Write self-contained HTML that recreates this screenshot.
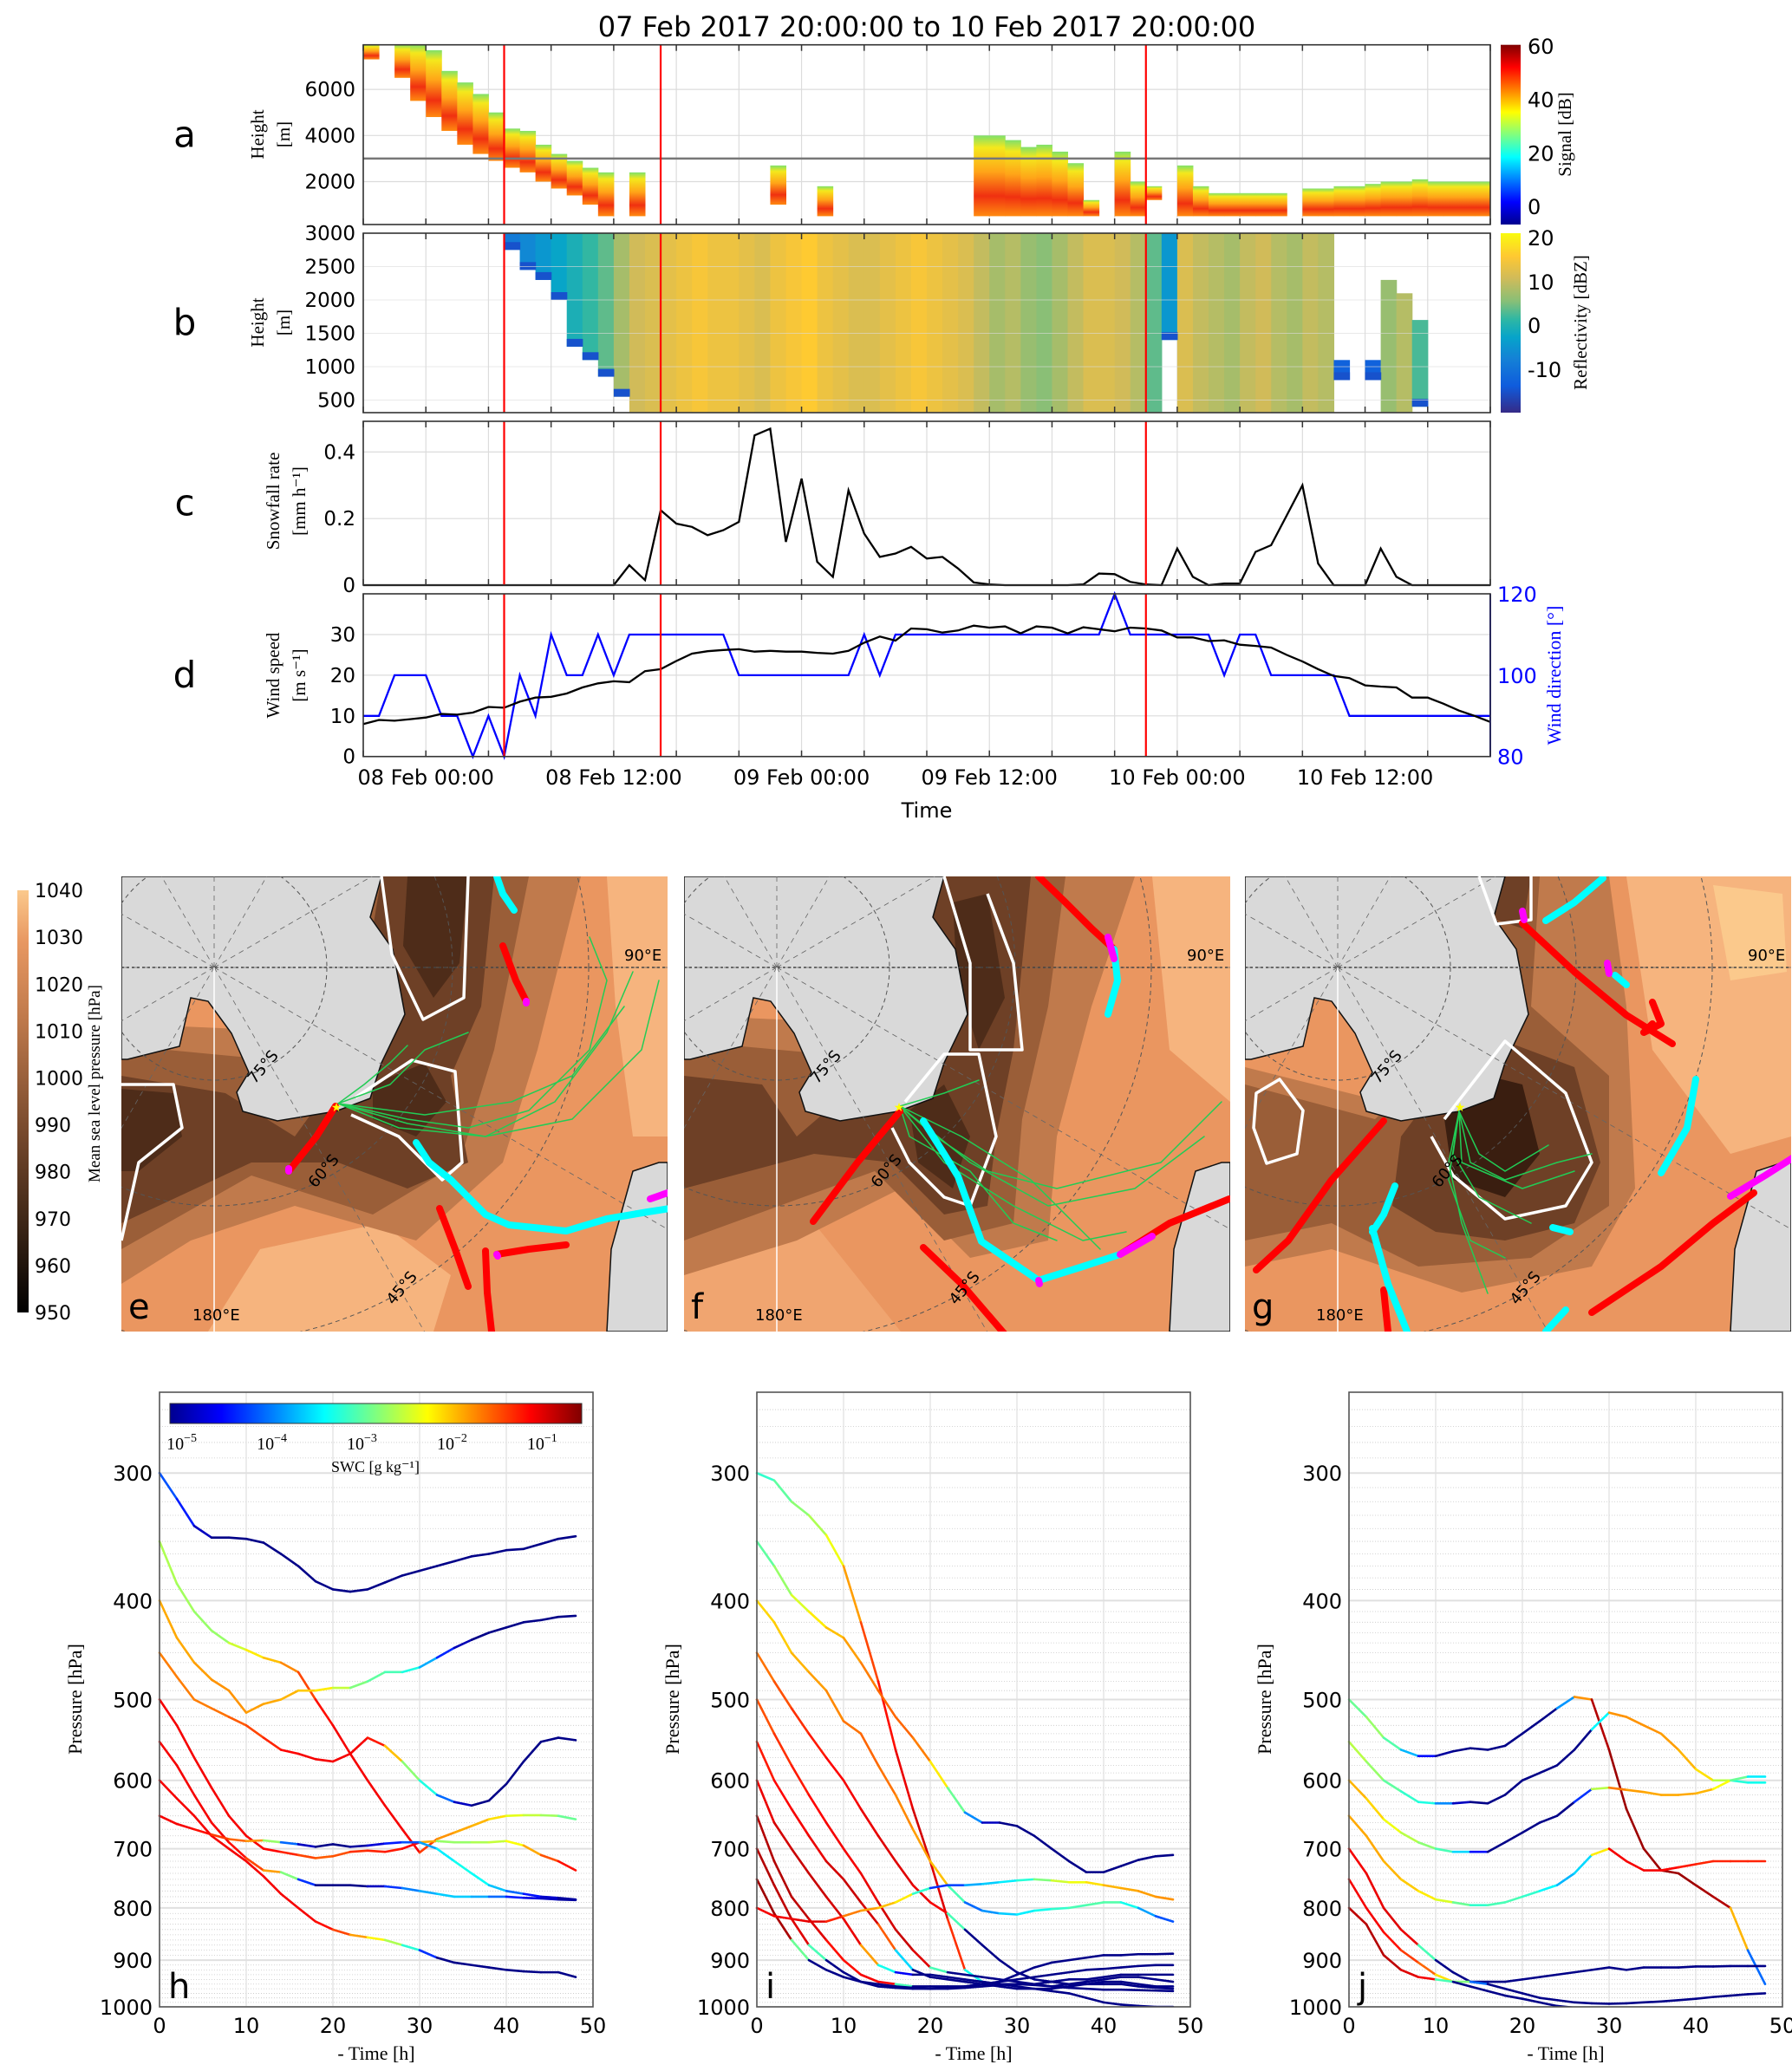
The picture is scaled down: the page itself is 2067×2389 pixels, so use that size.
<!DOCTYPE html>
<html><head><meta charset="utf-8"><style>
html,body{margin:0;padding:0;background:#fff;}
svg{display:block;font-family:"DejaVu Sans","Liberation Sans",sans-serif;}
.serif{font-family:"Liberation Serif","DejaVu Serif",serif;}
</style></head>
<body>
<svg id="fig" xmlns="http://www.w3.org/2000/svg" width="2067" height="2389" viewBox="0 0 2067 2389">
<defs>
<linearGradient id="jetH" x1="0" x2="1" y1="0" y2="0">
<stop offset="0" stop-color="#00008f"/><stop offset="0.125" stop-color="#0000ff"/><stop offset="0.375" stop-color="#00ffff"/><stop offset="0.625" stop-color="#ffff00"/><stop offset="0.875" stop-color="#ff0000"/><stop offset="1" stop-color="#800000"/>
</linearGradient>
<linearGradient id="jetV" x1="0" x2="0" y1="1" y2="0">
<stop offset="0" stop-color="#00008f"/><stop offset="0.125" stop-color="#0000ff"/><stop offset="0.375" stop-color="#00ffff"/><stop offset="0.625" stop-color="#ffff00"/><stop offset="0.875" stop-color="#ff0000"/><stop offset="1" stop-color="#800000"/>
</linearGradient>
<linearGradient id="parV" x1="0" x2="0" y1="1" y2="0">
<stop offset="0" stop-color="#352a87"/><stop offset="0.15" stop-color="#0f5cdd"/><stop offset="0.3" stop-color="#1481d6"/><stop offset="0.42" stop-color="#06a4ca"/><stop offset="0.52" stop-color="#2eb7a4"/><stop offset="0.62" stop-color="#87bf77"/><stop offset="0.75" stop-color="#d1bb59"/><stop offset="0.87" stop-color="#fec832"/><stop offset="1" stop-color="#f9fb0e"/>
</linearGradient>
<linearGradient id="sigCol" x1="0" x2="0" y1="0" y2="1">
<stop offset="0" stop-color="#7fe06a"/><stop offset="0.15" stop-color="#f4e81c"/><stop offset="0.45" stop-color="#ffa418"/><stop offset="0.75" stop-color="#f03010"/><stop offset="1" stop-color="#ff8a10"/>
</linearGradient>
<linearGradient id="copperV" x1="0" x2="0" y1="1" y2="0">
<stop offset="0" stop-color="#000000"/><stop offset="0.2" stop-color="#3a2415"/><stop offset="0.45" stop-color="#7d4d2f"/><stop offset="0.7" stop-color="#c07a4c"/><stop offset="0.88" stop-color="#e89862"/><stop offset="1" stop-color="#fbc98c"/>
</linearGradient>
<clipPath id="clipE"><rect x="0" y="0" width="630" height="525"/></clipPath>
</defs>
</svg>
<script>
// ---------------- DATA ----------------
const hours = [0,1,2,3,4,5,6,7,8,9,10,11,12,13,14,15,16,17,18,19,20,21,22,23,24,25,26,27,28,29,30,31,32,33,34,35,36,37,38,39,40,41,42,43,44,45,46,47,48,49,50,51,52,53,54,55,56,57,58,59,60,61,62,63,64,65,66,67,68,69,70,71,72];
const xTickLabels = ["08 Feb 00:00","08 Feb 12:00","09 Feb 00:00","09 Feb 12:00","10 Feb 00:00","10 Feb 12:00"];
const xTickHours = [4,16,28,40,52,64];
const redLineHours = [9,19,50];
const snowfall = [0,0,0,0,0,0,0,0,0,0,0,0,0,0,0,0,0,0.06,0.015,0.225,0.185,0.175,0.15,0.165,0.19,0.45,0.47,0.13,0.32,0.07,0.025,0.285,0.155,0.085,0.095,0.115,0.08,0.085,0.05,0.008,0.002,0,0,0,0,0,0.002,0.035,0.033,0.01,0.002,0,0.11,0.025,0,0.005,0.005,0.1,0.12,0.21,0.3,0.065,0,0,0,0.11,0.025,0,0,0,0,0,0];
const windSpeed = [8,9,8.8,9.2,9.6,10.5,10.3,10.8,12.2,12,13.5,14.5,14.7,15.5,17,18,18.5,18.3,21,21.5,23.5,25.3,25.9,26.2,26.4,25.8,26,25.8,25.8,25.5,25.3,26,28,29.5,28.5,31.5,31.3,30.5,31,32.2,31.7,32,30.3,32,31.7,30.3,31.8,31.3,30.8,31.7,31.5,31,29.3,29.3,28.4,28.6,27.5,27.2,26.8,25,23.4,21.5,19.8,19.3,17.5,17.2,17,14.5,14.5,13,11.3,10,8.5];
const windDir = [90,90,100,100,100,90,90,80,90,80,100,90,110,100,100,110,100,110,110,110,110,110,110,110,100,100,100,100,100,100,100,100,110,100,110,110,110,110,110,110,110,110,110,110,110,110,110,110,120,110,110,110,110,110,110,100,110,110,100,100,100,100,100,90,90,90,90,90,90,90,90,90,90];
const sigTop = [7950,null,7950,7950,7700,6800,6300,5800,5000,4300,4200,3600,3200,2900,2600,2400,null,2400,null,null,null,null,null,null,null,null,2700,null,null,1800,null,null,null,null,null,null,null,null,null,4000,4000,3800,3500,3600,3300,2800,1200,null,3300,2000,1800,null,2700,1800,1500,1500,1500,1500,1500,null,1700,1700,1800,1800,1900,2000,2000,2100,2000,2000,2000,2000,null];
const sigBot = [7300,null,6500,5500,4800,4200,3600,3200,2900,2600,2400,2000,1700,1400,1000,500,null,500,null,null,null,null,null,null,null,null,1000,null,null,500,null,null,null,null,null,null,null,null,null,500,500,500,500,500,500,500,500,null,500,500,1200,null,500,500,500,500,500,500,500,null,500,500,500,500,500,500,500,500,500,500,500,500,null];
const radHour = [9,10,11,12,13,14,15,16,17,18,19,20,21,22,23,24,25,26,27,28,29,30,31,32,33,34,35,36,37,38,39,40,41,42,43,44,45,46,47,48,49,50,51,52,53,54,55,56,57,58,59,60,61,62,64,65,66,67];
const radTop = [3000,3000,3000,3000,3000,3000,3000,3000,3000,3000,3000,3000,3000,3000,3000,3000,3000,3000,3000,3000,3000,3000,3000,3000,3000,3000,3000,3000,3000,3000,3000,3000,3000,3000,3000,3000,3000,3000,3000,3000,3000,3000,3000,3000,3000,3000,3000,3000,3000,3000,3000,3000,3000,1100,1100,2300,2100,1700];
const radBot = [2750,2450,2300,2000,1300,1100,850,550,320,320,320,320,320,320,320,320,320,320,320,320,320,320,320,320,320,320,320,320,320,320,320,320,320,320,320,320,320,320,320,320,320,320,1400,320,320,320,320,320,320,320,320,320,320,800,800,320,320,400];
const radDbz = [-8,-6,-4,-2,0,2,4,8,11,12,13,14,15,14,14,13,12,14,15,16,14,13,12,12,13,14,15,14,13,12,10,8,9,7,6,8,10,12,12,11,9,4,-4,12,10,9,8,10,11,9,8,10,9,-12,-12,7,9,3];
const aTicks = [2000,4000,6000];
const bTicks = [500,1000,1500,2000,2500,3000];
const cTicks = [0,0.2,0.4];
const dTicks = [0,10,20,30];
const dirTicks = [80,100,120];
const trajTimes = [0,2,4,6,8,10,12,14,16,18,20,22,24,26,28,30,32,34,36,38,40,42,44,46,48];
const hP = [
[300,318,338,347,347,348,351,360,370,383,390,392,390,384,378,374,370,366,362,360,357,356,352,348,346],
[350,385,410,428,440,447,455,460,470,500,530,565,600,635,670,706,685,675,665,655,650,649,649,650,655],
[400,435,460,478,490,515,505,500,490,490,487,487,480,470,470,465,455,445,437,430,425,420,418,415,414],
[450,475,500,510,520,530,545,560,565,572,575,565,545,555,575,600,620,630,635,628,605,575,550,545,548],
[500,530,570,610,650,680,700,705,710,715,712,705,703,705,700,690,688,690,690,690,688,695,710,720,735],
[550,580,620,660,690,715,735,738,750,760,760,760,762,762,765,770,775,780,780,780,780,782,783,785,786],
[600,625,650,680,700,720,745,775,800,825,840,850,855,860,870,880,895,905,910,915,920,923,925,925,935],
[650,662,670,678,685,688,687,690,693,697,693,697,695,692,690,690,700,720,740,760,770,775,780,782,785]];
const hE = [
[-4,-4.2,-4.5,-5],
[-2.5,-2.6,-2.6,-2.7,-2.6,-2.2,-2,-1.8,-1.5,-1.2,-1,-1,-1,-1,-1,-1,-1.6,-1.8,-1.8,-1.9,-2.2,-2.4,-2.5,-2.7,-3],
[-1.8,-1.8,-1.8,-1.7,-1.7,-1.7,-1.8,-1.8,-1.9,-2,-2.2,-2.7,-2.8,-3,-3,-3.4,-4,-4.6,-5],
[-1.6,-1.6,-1.6,-1.6,-1.5,-1.4,-1.3,-1.1,-1,-1,-1,-1,-1,-1.3,-2.5,-2.9,-3.5,-4.5,-5],
[-1,-1,-1,-1,-1,-1,-1,-1.1,-1.3,-1.4,-1.5,-1.3,-1.2,-1.2,-1.1,-1,-2.6,-2.7,-2.6,-2.5,-2.4,-2,-1.6,-1.2,-1],
[-1,-1,-1,-1,-1,-1.2,-1.5,-2,-3.5,-5,-5,-5,-5,-4.5,-4,-3.8,-3.6,-3.5,-3.6,-3.8,-4.2,-4.5,-4.7,-4.8,-5],
[-1,-1,-1,-1,-1,-1,-1,-1,-1,-1,-1.2,-1.5,-2,-2.3,-2.8,-3.5,-5],
[-1,-1,-1,-1.2,-1.4,-1.6,-1.8,-3.5,-4.5,-5,-5,-5,-4.8,-4.5,-4.2,-4,-3.5,-3.3,-3.2,-3.4,-3.8,-4.2,-4.6,-4.8,-5]];
const iP = [
[300,305,320,330,345,370,420,480,560,640,720,820,920,945,950,955,960,965,970,980,990,995,998,1000,1000],
[350,370,395,410,425,435,460,490,520,545,575,610,645,660,660,665,680,700,720,738,738,728,718,712,710],
[400,420,450,470,490,525,540,580,620,670,720,760,790,805,810,812,805,802,800,795,790,790,800,815,825],
[450,480,510,540,570,600,640,680,720,760,790,810,840,870,900,925,940,945,950,950,950,950,955,958,960],
[500,540,580,620,660,700,740,790,840,880,915,925,930,935,940,945,950,955,950,945,940,935,935,940,945],
[550,600,640,680,720,750,790,830,880,920,935,940,945,950,955,960,960,960,955,950,945,945,950,955,955],
[600,660,700,740,780,820,870,910,925,930,930,935,940,945,950,950,950,945,940,940,935,930,930,930,930],
[650,720,780,820,860,900,930,945,950,955,955,955,955,950,945,940,935,930,925,920,918,915,912,910,910],
[700,760,820,870,900,925,945,955,958,960,960,958,955,950,945,930,915,905,900,895,890,890,888,888,887],
[750,810,860,900,920,935,945,950,955,958,960,960,958,955,952,950,952,955,958,960,962,962,963,964,965],
[800,815,820,825,825,815,805,800,790,775,765,760,760,758,755,752,750,752,755,755,760,765,770,780,785]];
const iE = [
[-3.2,-3,-2.8,-2.6,-2.5,-2,-1.5,-1.2,-1,-0.9,-0.8,-1,-1.5,-5],
[-3,-2.8,-2.5,-2.2,-2,-1.8,-1.7,-1.5,-1.5,-1.5,-1.7,-2.5,-3.2,-4.5,-5],
[-2,-2,-1.9,-1.8,-1.7,-1.6,-1.5,-1.5,-1.6,-1.7,-1.8,-2,-4,-4,-3.6,-3.5,-3.3,-3.2,-3,-3,-2.9,-3,-3.5,-4,-4.2],
[-1.6,-1.5,-1.3,-1.2,-1.1,-1,-1,-0.9,-0.9,-0.9,-1,-1,-5],
[-1.5,-1.3,-1.2,-1.1,-1,-1,-1,-0.9,-0.8,-0.8,-1,-5],
[-1.2,-1.1,-1,-1,-0.9,-0.8,-0.8,-0.9,-2,-5],
[-1,-0.9,-0.8,-0.8,-0.8,-0.9,-1,-2.5,-4,-5],
[-0.7,-0.7,-0.7,-0.8,-1,-1.2,-1,-1,-1,-5],
[-0.7,-0.7,-0.8,-1,-5],
[-0.6,-0.6,-0.7,-5],
[-1,-1,-1,-0.9,-0.9,-1.5,-1.7,-1.8,-2,-2.2,-4,-4.5,-3.8,-3.6,-3.5,-3.3,-3,-2.5,-2.3,-2.2,-1.9,-1.8,-1.8,-1.7,-1.7]];
const jP = [
[500,520,545,560,568,568,562,558,560,555,540,525,510,497,500,560,640,700,735,740,760,780,800,880,950],
[550,575,600,615,630,632,632,630,632,620,600,590,580,560,535,515,520,530,540,560,585,600,600,603,603],
[600,625,655,675,690,700,705,705,705,690,675,660,650,630,612,610,613,616,620,620,618,612,600,595,595],
[650,680,720,750,770,785,790,795,795,790,780,770,760,740,710,700,720,735,735,730,725,720,720,720,720],
[700,740,800,840,870,900,925,945,945,945,940,935,930,925,920,915,920,915,915,915,913,913,912,912,912],
[750,800,845,880,905,930,945,945,950,960,970,980,985,990,992,993,992,990,988,985,982,978,975,972,970],
[800,830,890,920,935,940,945,955,965,975,982,990,998,1002,1005,1008,1010,1010,1010,1010,1010,1010,1010,1010,1010]];
const jE = [
[-3,-2.7,-2.6,-3.3,-4,-4.8,-5,-5,-5,-5,-5,-5,-5,-2.6,-0.8,-0.6,-0.6,-0.6,-0.6,-0.6,-0.6,-0.7,-0.7,-3,-5],
[-2.5,-2.5,-2.8,-3,-3.2,-3.2,-4.5,-5,-5,-5,-5,-5,-5,-5,-5,-1.7,-1.7,-1.7,-1.7,-1.8,-1.9,-2.2,-2.8,-3.5,-3],
[-1.8,-1.9,-2.1,-2.4,-2.6,-2.8,-3.2,-3.8,-5,-5,-5,-5,-5,-5,-3.5,-1.5,-1.7,-1.8,-1.8,-1.8,-1.8,-1.9,-2.5,-3.2,-3.6],
[-1.8,-1.8,-1.8,-1.9,-2,-2.2,-2.5,-3.2,-3,-3,-3,-3.2,-3.5,-3.8,-3.2,-1,-1,-1,-1,-1.1,-1.2,-1.2,-1.2,-1.2,-1.2],
[-1,-1,-0.9,-0.9,-1,-5],
[-1,-1,-1,-1.2,-1.4,-1.6,-2.5,-3,-5],
[-0.8,-0.7,-0.7,-0.8,-1,-1,-5]];
const pTicks = [300,400,500,600,700,800,900,1000];
const tTicks = [0,10,20,30,40,50];
const swcTickExp = [-5,-4,-3,-2,-1];
const mslpTicks = [950,960,970,980,990,1000,1010,1020,1030,1040];

// ---------------- HELPERS ----------------
const NS = "http://www.w3.org/2000/svg";
const svg = document.getElementById('fig');
function mk(tag, attrs, parent){ const e=document.createElementNS(NS,tag); for(const k in attrs) e.setAttribute(k,attrs[k]); (parent||svg).appendChild(e); return e; }
function txt(s, attrs, parent){ const e=mk('text',attrs,parent); e.textContent=s; return e; }
function clamp(v){return Math.max(0,Math.min(1,v));}
function jet(f){ f=clamp(f); const r=clamp(1.5-Math.abs(4*f-3)), g=clamp(1.5-Math.abs(4*f-2)), b=clamp(1.5-Math.abs(4*f-1)); return `rgb(${Math.round(r*255)},${Math.round(g*255)},${Math.round(b*255)})`; }
const parStops=[[0,[53,42,135]],[0.15,[15,92,221]],[0.3,[20,129,214]],[0.42,[6,164,202]],[0.52,[46,183,164]],[0.62,[135,191,119]],[0.75,[209,187,89]],[0.87,[254,200,50]],[1,[249,251,14]]];
function parula(f){ f=clamp(f); for(let i=1;i<parStops.length;i++){ if(f<=parStops[i][0]){ const a=parStops[i-1],b=parStops[i]; const t=(f-a[0])/(b[0]-a[0]); const c=a[1].map((v,k)=>Math.round(v+(b[1][k]-v)*t)); return `rgb(${c[0]},${c[1]},${c[2]})`; } } return 'rgb(249,251,14)'; }

// ---------------- TOP PANELS ----------------
const X0=419, X1=1719, CBX=1731;
const xH = h => X0 + h*(X1-X0)/72;
const yA = v => 209.5 - (v-2000)*0.0266;
const yB = v => 269 + (3000-v)*0.077;
const yC = v => 675 - v*384;
const yD = v => 872.7 - v*4.69;
const yDir = d => 872.7 - (d-80)*4.69;
const panels = [{n:'a',t:51.7,b:259},{n:'b',t:269,b:476},{n:'c',t:486,b:675},{n:'d',t:685,b:872.7}];

txt('07 Feb 2017 20:00:00 to 10 Feb 2017 20:00:00',{x:1069,y:42,'font-size':32,'text-anchor':'middle',});

panels.forEach(p=>{
  const g=mk('g',{});
  
  
  mk('rect',{x:X0,y:p.t,width:X1-X0,height:p.b-p.t,fill:'#fff'},g);
  for(let h=0;h<=72;h+=4){ const l=mk('line',{x1:xH(h),x2:xH(h),y1:p.t,y2:p.b,stroke:'#dcdcdc','stroke-width':1.2},g);   }
  txt(p.n,{x:213,y:(p.t+p.b)/2+14,'font-size':42,'text-anchor':'middle'},g);
  p.g=g;
});

// panel a
(function(){
  const g=panels[0].g;
  aTicks.forEach(v=>{ mk('line',{x1:X0,x2:X1,y1:yA(v),y2:yA(v),stroke:'#dcdcdc','stroke-width':1.2},g); const t=txt(String(v),{x:X0-9,y:yA(v)+8,'font-size':23,'text-anchor':'end'},g);   });
  hours.forEach((h,i)=>{ if(sigTop[i]===null) return; const r=mk('rect',{x:xH(h),y:yA(sigTop[i]),width:xH(1)-xH(0)+0.5,height:yA(sigBot[i])-yA(sigTop[i]),fill:'url(#sigCol)'},g);
    
     });
  mk('line',{x1:X0,x2:X1,y1:yA(3000),y2:yA(3000),stroke:'#777','stroke-width':2.5},g);
  mk('rect',{x:CBX,y:51.7,width:23,height:207.3,fill:'url(#jetV)'},g);
  [0,20,40,60].forEach(v=>{ txt(String(v),{x:1762,y:238-v*3.083+9,'font-size':24},g); });
  txt('Signal [dB]',{x:1812,y:155,'font-size':21,'text-anchor':'middle',transform:'rotate(-90 1812 155)',class:'serif'},g);
  txt('Height',{x:304,y:155,'font-size':21,'text-anchor':'middle',transform:'rotate(-90 304 155)',class:'serif'},g);
  txt('[m]',{x:334,y:155,'font-size':21,'text-anchor':'middle',transform:'rotate(-90 334 155)',class:'serif'},g);
})();

// panel b
(function(){
  const g=panels[1].g;
  radHour.forEach((h,i)=>{ const r=mk('rect',{x:xH(h),y:yB(radTop[i]),width:xH(1)-xH(0)+0.6,height:yB(radBot[i])-yB(radTop[i]),fill:parula((radDbz[i]+19)/40)},g);
    
     });
  radHour.forEach((h,i)=>{ if(radBot[i]>330) { const r=mk('rect',{x:xH(h),y:yB(radBot[i])-9,width:xH(1)-xH(0)+0.6,height:9,fill:parula(0.12)},g);
    
     } });
  bTicks.forEach(v=>{ mk('line',{x1:X0,x2:X1,y1:yB(v),y2:yB(v),stroke:'#dcdcdc','stroke-width':1,'opacity':0.6},g); txt(String(v),{x:X0-9,y:yB(v)+8,'font-size':23,'text-anchor':'end'},g); });
  mk('rect',{x:CBX,y:269,width:23,height:207,fill:'url(#parV)'},g);
  [[20,274],[10,325],[0,375],[-10,426]].forEach(a=>{ txt(String(a[0]),{x:1762,y:a[1]+9,'font-size':24},g); });
  txt('Reflectivity [dBZ]',{x:1830,y:372,'font-size':21,'text-anchor':'middle',transform:'rotate(-90 1830 372)',class:'serif'},g);
  txt('Height',{x:304,y:372,'font-size':21,'text-anchor':'middle',transform:'rotate(-90 304 372)',class:'serif'},g);
  txt('[m]',{x:334,y:372,'font-size':21,'text-anchor':'middle',transform:'rotate(-90 334 372)',class:'serif'},g);
})();

// panel c
(function(){
  const g=panels[2].g;
  cTicks.forEach(v=>{ mk('line',{x1:X0,x2:X1,y1:yC(v),y2:yC(v),stroke:'#dcdcdc','stroke-width':1.2},g); txt(String(v),{x:X0-9,y:yC(v)+8,'font-size':23,'text-anchor':'end'},g); });
  const pts=hours.map((h,i)=>xH(h).toFixed(1)+','+yC(snowfall[i]).toFixed(1)).join(' ');
  const pl=mk('polyline',{points:pts,fill:'none',stroke:'#000','stroke-width':2.3},g);
  
  
  txt('Snowfall rate',{x:322,y:578,'font-size':21,'text-anchor':'middle',transform:'rotate(-90 322 578)',class:'serif'},g);
  txt('[mm h\u207B\u00B9]',{x:352,y:578,'font-size':21,'text-anchor':'middle',transform:'rotate(-90 352 578)',class:'serif'},g);
})();

// panel d
(function(){
  const g=panels[3].g;
  dTicks.forEach(v=>{ mk('line',{x1:X0,x2:X1,y1:yD(v),y2:yD(v),stroke:'#dcdcdc','stroke-width':1.2},g); txt(String(v),{x:X0-9,y:yD(v)+8,'font-size':23,'text-anchor':'end'},g); });
  dirTicks.forEach(v=>{ txt(String(v),{x:X1+8,y:yDir(v)+9,'font-size':24,fill:'#0000ff'},g); });
  const pd=hours.map((h,i)=>xH(h).toFixed(1)+','+yDir(windDir[i]).toFixed(1)).join(' ');
  const l1=mk('polyline',{points:pd,fill:'none',stroke:'#0000ff','stroke-width':2.3},g);
  
  
  const ps=hours.map((h,i)=>xH(h).toFixed(1)+','+yD(windSpeed[i]).toFixed(1)).join(' ');
  const l2=mk('polyline',{points:ps,fill:'none',stroke:'#000','stroke-width':2.3},g);
  
  
  mk('line',{x1:X1,x2:X1,y1:685,y2:872.7,stroke:'#0000ff','stroke-width':2},g);
  txt('Wind speed',{x:322,y:779,'font-size':21,'text-anchor':'middle',transform:'rotate(-90 322 779)',class:'serif'},g);
  txt('[m s\u207B\u00B9]',{x:352,y:779,'font-size':21,'text-anchor':'middle',transform:'rotate(-90 352 779)',class:'serif'},g);
  txt('Wind direction [\u00B0]',{x:1800,y:779,'font-size':22,'text-anchor':'middle',fill:'#0000ff',transform:'rotate(-90 1800 779)',class:'serif'},g);
  xTickHours.forEach((h,i)=>{ const t=txt(xTickLabels[i],{x:xH(h),y:905,'font-size':24,'text-anchor':'middle'},g);   });
  txt('Time',{x:1069,y:943,'font-size':24,'text-anchor':'middle'},g);
})();

panels.forEach(p=>{
  redLineHours.forEach(h=>{ const l=mk('line',{x1:xH(h),x2:xH(h),y1:p.t,y2:p.b,stroke:'#ff0000','stroke-width':2.2},p.g);   });
  for(let h=0;h<=72;h+=4){ mk('line',{x1:xH(h),x2:xH(h),y1:p.b,y2:p.b-7,stroke:'#333','stroke-width':1.5},p.g); mk('line',{x1:xH(h),x2:xH(h),y1:p.t,y2:p.t+7,stroke:'#333','stroke-width':1.5},p.g); }
  mk('rect',{x:X0,y:p.t,width:X1-X0,height:p.b-p.t,fill:'none',stroke:'#333','stroke-width':1.6},p.g);
});

// ---------------- MAPS ----------------
(function(){
  const g=mk('g',{});
  
  
  mk('rect',{x:20,y:1027,width:13,height:487,fill:'url(#copperV)'},g);
  mslpTicks.forEach(v=>{ txt(String(v),{x:40,y:1514-(v-950)*5.41+8,'font-size':22},g); });
  txt('Mean sea level pressure [hPa]',{x:115,y:1250,'font-size':19,'text-anchor':'middle',transform:'rotate(-90 115 1250)',class:'serif'},g);
})();
const land = "M300,0 L287,47 L313,84 L327,159 L300,215 L287,256 L247,271 L180,282 L140,271 L133,249 L147,226 L127,181 L100,144 L80,140 L67,196 L7,211 L0,211 L0,0 Z";
const maps = [
 {id:'e', x:140, layers:[
   ['#f6b47e','M560,0 L630,0 L630,300 L590,300 L570,150 Z'],
   ['#f6b47e','M100,525 L160,430 L300,400 L380,460 L360,525 Z'],
   ['#c07a4c','M0,170 L230,180 L270,0 L530,0 L480,200 L440,330 L340,420 L200,380 L80,420 L0,470 Z'],
   ['#9a5e38','M0,195 L210,215 L285,0 L470,0 L430,200 L390,330 L290,390 L150,345 L0,430 Z'],
   ['#6e4026','M0,230 L120,250 L200,300 L265,210 L300,0 L430,0 L415,150 L380,230 L400,330 L330,360 L250,330 L150,330 L0,400 Z'],
   ['#4e2c19','M330,0 L400,0 L390,100 L360,140 L325,80 Z'],
   ['#4e2c19','M290,240 L350,215 L375,260 L340,300 L290,280 Z'],
   ['#4e2c19','M0,245 L60,250 L70,300 L20,340 L0,340 Z']],
  white:['M300,0 L312,90 L348,165 L395,140 L400,0','M270,255 L335,212 L385,225 L393,330 L370,350 L320,300 L265,275','M0,240 L60,240 L70,290 L20,330 L0,420'],
  red:[[[247,265],[225,300],[193,340]],[[440,80],[455,120],[467,144]],[[367,383],[385,430],[400,473]],[[420,432],[422,480],[427,525]],[[433,436],[470,430],[513,425]]],
  cyan:[[[433,0],[440,20],[453,39]],[[340,307],[355,330],[380,350],[420,390],[447,402],[513,409],[560,395],[607,387],[633,383]]],
  mag:[[[467,144],[467,146]],[[193,337],[193,340]],[[433,436],[434,438]],[[610,372],[630,365]]],
  green:[[[250,262],[330,280],[400,290],[470,270],[540,200],[560,120],[540,70]],[[250,262],[330,285],[420,300],[500,260],[560,180],[590,110]],[[250,262],[320,290],[420,300],[520,280],[600,200],[620,120]],[[250,262],[280,240],[310,215],[330,195]],[[250,262],[310,240],[350,200],[400,180]],[[250,262],[350,275],[450,260],[520,230],[580,150]]]},
 {id:'f', x:789, layers:[
   ['#f6b47e','M540,0 L630,0 L630,260 L560,200 Z'],
   ['#f0a570','M0,440 L150,400 L250,525 L0,525 Z'],
   ['#c07a4c','M0,160 L220,170 L265,0 L520,0 L470,150 L430,300 L420,420 L330,440 L250,360 L130,420 L0,460 Z'],
   ['#9a5e38','M0,190 L220,210 L275,0 L440,0 L420,150 L390,280 L380,400 L300,420 L220,340 L0,420 Z'],
   ['#6e4026','M0,230 L90,240 L130,300 L200,240 L270,0 L400,0 L380,200 L360,300 L350,380 L300,390 L240,330 L150,320 L0,360 Z'],
   ['#4e2c19','M310,30 L350,20 L370,140 L340,200 L315,120 Z'],
   ['#4e2c19','M260,270 L300,240 L330,300 L310,360 L270,330 Z']],
  white:['M300,0 L330,100 L330,200 L390,200 L380,100 L350,20','M255,260 L300,205 L340,205 L360,300 L330,380 L300,370 L260,330 L240,290'],
  red:[[[409,0],[440,30],[470,60],[496,84]],[[249,271],[200,330],[149,398]],[[276,428],[320,470],[369,527]],[[503,436],[560,400],[629,372]]],
  cyan:[[[496,84],[500,120],[489,159]],[[276,282],[300,320],[316,346],[343,421],[409,466],[460,450],[503,436]]],
  mag:[[[489,70],[496,95]],[[409,466],[410,470]],[[503,436],[540,415]]],
  green:[[[249,265],[330,330],[420,380],[520,360],[600,300]],[[249,265],[300,330],[380,380],[460,420],[510,410]],[[249,265],[320,300],[400,350],[450,400],[480,430]],[[249,265],[290,300],[350,340],[430,360],[550,330],[620,260]],[[249,265],[260,300],[330,340],[380,400],[430,420]],[[249,265],[300,250],[340,235]]]},
 {id:'g', x:1436, layers:[
   ['#f6b47e','M440,0 L630,0 L630,300 L560,320 L470,200 Z'],
   ['#fbc98c','M540,10 L620,20 L625,110 L560,120 Z'],
   ['#c07a4c','M0,220 L160,260 L230,200 L250,0 L420,0 L440,150 L450,360 L400,450 L250,480 L100,430 L0,450 Z'],
   ['#9a5e38','M0,240 L150,280 L225,210 L265,0 L340,0 L330,150 L420,230 L420,380 L330,440 L200,450 L100,400 L0,420 Z'],
   ['#6e4026','M180,300 L240,220 L300,190 L380,220 L410,330 L380,400 L300,420 L220,410 L170,380 Z'],
   ['#6e4026','M270,0 L330,0 L320,60 L290,50 Z'],
   ['#3a1e10','M230,280 L280,230 L320,240 L340,320 L300,370 L240,350 Z']],
  white:['M230,280 L300,190 L370,250 L400,330 L370,380 L300,395 L240,345 L215,300','M13,250 L40,234 L67,270 L60,320 L25,331 L10,290 Z','M270,0 L290,55 L330,50 L330,0'],
  red:[[[320,54],[380,110],[440,160],[493,193]],[[160,282],[100,350],[50,420],[13,454]],[[160,477],[165,525]],[[400,503],[480,450],[540,400],[587,365]],[[470,145],[480,170],[460,180],[470,170]]],
  cyan:[[[347,51],[380,30],[413,2]],[[427,114],[440,125]],[[173,357],[160,390],[147,410]],[[147,406],[165,470],[187,525]],[[520,234],[510,290],[480,342]],[[347,525],[370,500]],[[355,405],[375,410]]],
  mag:[[[320,40],[322,50]],[[418,100],[420,112]],[[560,369],[600,345],[633,324]]],
  green:[[[247,271],[235,330],[250,400],[280,481]],[[247,271],[240,320],[270,370],[330,400]],[[247,271],[260,330],[300,350],[360,330],[400,320]],[[247,271],[250,330],[320,360],[380,340]],[[247,271],[235,350],[260,420],[300,440]],[[247,271],[270,320],[300,340],[350,310]]]}
];
maps.forEach(m=>{
  const g=mk('g',{transform:`translate(${m.x},1011)`,'clip-path':'url(#clipE)'});
  
  
  mk('rect',{x:0,y:0,width:630,height:525,fill:'#ea9660'},g);
  m.layers.forEach(L=>{ const p=mk('path',{d:L[1],fill:L[0],'stroke-linejoin':'round'},g);   });
  const ld=mk('path',{d:land,fill:'#d9d9d9',stroke:'#111','stroke-width':1.5},g);
  
  
  mk('path',{d:'M590,340 L620,330 L630,330 L630,525 L560,525 L565,430 Z',fill:'#d9d9d9',stroke:'#111','stroke-width':1.5},g);
  [130,275,432].forEach(r=>{ mk('circle',{cx:107,cy:105,r:r,fill:'none',stroke:'#555','stroke-width':1,'stroke-dasharray':'5,4'},g); });
  for(let a=0;a<360;a+=30){ const rad=a*Math.PI/180; mk('line',{x1:107,y1:105,x2:107+800*Math.cos(rad),y2:105+800*Math.sin(rad),stroke:'#666','stroke-width':0.8,'stroke-dasharray':'6,5'},g); }
  mk('line',{x1:0,y1:105,x2:630,y2:105,stroke:'#444','stroke-width':1.5,'stroke-dasharray':'3,3'},g);
  mk('line',{x1:107,y1:105,x2:107,y2:525,stroke:'#fff','stroke-width':1.5},g);
  m.white.forEach(d=>{ mk('path',{d:d,fill:'none',stroke:'#fff','stroke-width':3.5,'stroke-linejoin':'round'},g); });
  const line=(pts,col,w,name)=>{ const p=mk('polyline',{points:pts.map(q=>q.join(',')).join(' '),fill:'none',stroke:col,'stroke-width':w,'stroke-linecap':'round','stroke-linejoin':'round'},g);   };
  m.green.forEach(p=>line(p,'#22cc55',1.5,'backward-trajectory'));
  m.red.forEach(p=>line(p,'#ff0000',8,'front-red'));
  m.cyan.forEach(p=>line(p,'#00ffff',8,'front-cyan'));
  m.mag.forEach(p=>line(p,'#ff00ff',8,'front-magenta'));
  txt('\u2605',{x:248,y:271,'font-size':14,fill:'#ffff00','text-anchor':'middle'},g);
  txt('90\u00B0E',{x:580,y:97,'font-size':18},g);
  txt('75\u00B0S',{x:145,y:235,'font-size':18,transform:'rotate(-50 155 228)'},g);
  txt('60\u00B0S',{x:215,y:355,'font-size':18,transform:'rotate(-50 225 348)'},g);
  txt('45\u00B0S',{x:305,y:490,'font-size':18,transform:'rotate(-50 315 483)'},g);
  txt('180\u00B0E',{x:82,y:512,'font-size':18},g);
  txt(m.id,{x:8,y:510,'font-size':40},g);
});

// ---------------- TRAJECTORY PANELS ----------------
const TP0=1606, TP1=2315;
const yP = p => TP0 + Math.log(p/250)/Math.log(4)*(TP1-TP0);
const eMin=-5.04, eMax=-0.47;
const tpanels=[{id:'h',x:184,P:hP,E:hE},{id:'i',x:873,P:iP,E:iE},{id:'j',x:1556,P:jP,E:jE}];
tpanels.forEach(tp=>{
  const g=mk('g',{});
  
  
  const xT=t=>tp.x+t*10;
  mk('rect',{x:tp.x,y:TP0,width:500,height:TP1-TP0,fill:'#fff'},g);
  for(let p=260;p<1000;p+=10){ if(p%100===0) continue; mk('line',{x1:tp.x,x2:tp.x+500,y1:yP(p),y2:yP(p),stroke:'#c8c8c8','stroke-width':0.8,'stroke-dasharray':'1,2'},g); }
  pTicks.forEach(p=>{ mk('line',{x1:tp.x,x2:tp.x+500,y1:yP(p),y2:yP(p),stroke:'#e0e0e0','stroke-width':2},g); txt(String(p),{x:tp.x-8,y:yP(p)+9,'font-size':24,'text-anchor':'end'},g); });
  tTicks.forEach(t=>{ mk('line',{x1:xT(t),x2:xT(t),y1:TP0,y2:TP1,stroke:'#e0e0e0','stroke-width':1.2},g); });
  tp.P.forEach((arr,li)=>{
    const ex=tp.E[li];
    for(let k=0;k<arr.length-1;k++){
      const e0=ex[Math.min(k,ex.length-1)], e1=ex[Math.min(k+1,ex.length-1)];
      const c=jet(((e0+e1)/2-eMin)/(eMax-eMin));
      const s=mk('line',{x1:xT(trajTimes[k]),y1:yP(arr[k]),x2:xT(trajTimes[k+1]),y2:yP(arr[k+1]),stroke:c,'stroke-width':2.6,'stroke-linecap':'round'},g);
      
      
    }
  });
  mk('rect',{x:tp.x-3,y:TP1,width:510,height:40,fill:'#fff'},g);
  tTicks.forEach(t=>{ txt(String(t),{x:xT(t),y:2345,'font-size':24,'text-anchor':'middle'},g); });
  mk('rect',{x:tp.x,y:TP0,width:500,height:TP1-TP0,fill:'none',stroke:'#555','stroke-width':1.6},g);
  txt('Pressure [hPa]',{x:tp.x-90,y:1960,'font-size':22,'text-anchor':'middle',transform:`rotate(-90 ${tp.x-90} 1960)`,class:'serif'},g);
  txt('- Time [h]',{x:tp.x+250,y:2376,'font-size':22,'text-anchor':'middle',class:'serif'},g);
  txt(tp.id,{x:tp.x+10,y:2305,'font-size':40},g);
});
(function(){
  const g=mk('g',{});
  
  
  mk('rect',{x:196,y:1619,width:475,height:23,fill:'url(#jetH)',stroke:'#333','stroke-width':1},g);
  swcTickExp.forEach(e=>{ const x=196+(e-eMin)/(eMax-eMin)*475; const t=txt('10',{x:x-8,y:1672,'font-size':20,class:'serif'},g); const s=mk('tspan',{dy:-9,'font-size':14},t); s.textContent=String(e).replace('-','\u2212'); });
  txt('SWC [g kg\u207B\u00B9]',{x:433,y:1698,'font-size':18,'text-anchor':'middle',class:'serif'},g);
})();
</script>
</body></html>
